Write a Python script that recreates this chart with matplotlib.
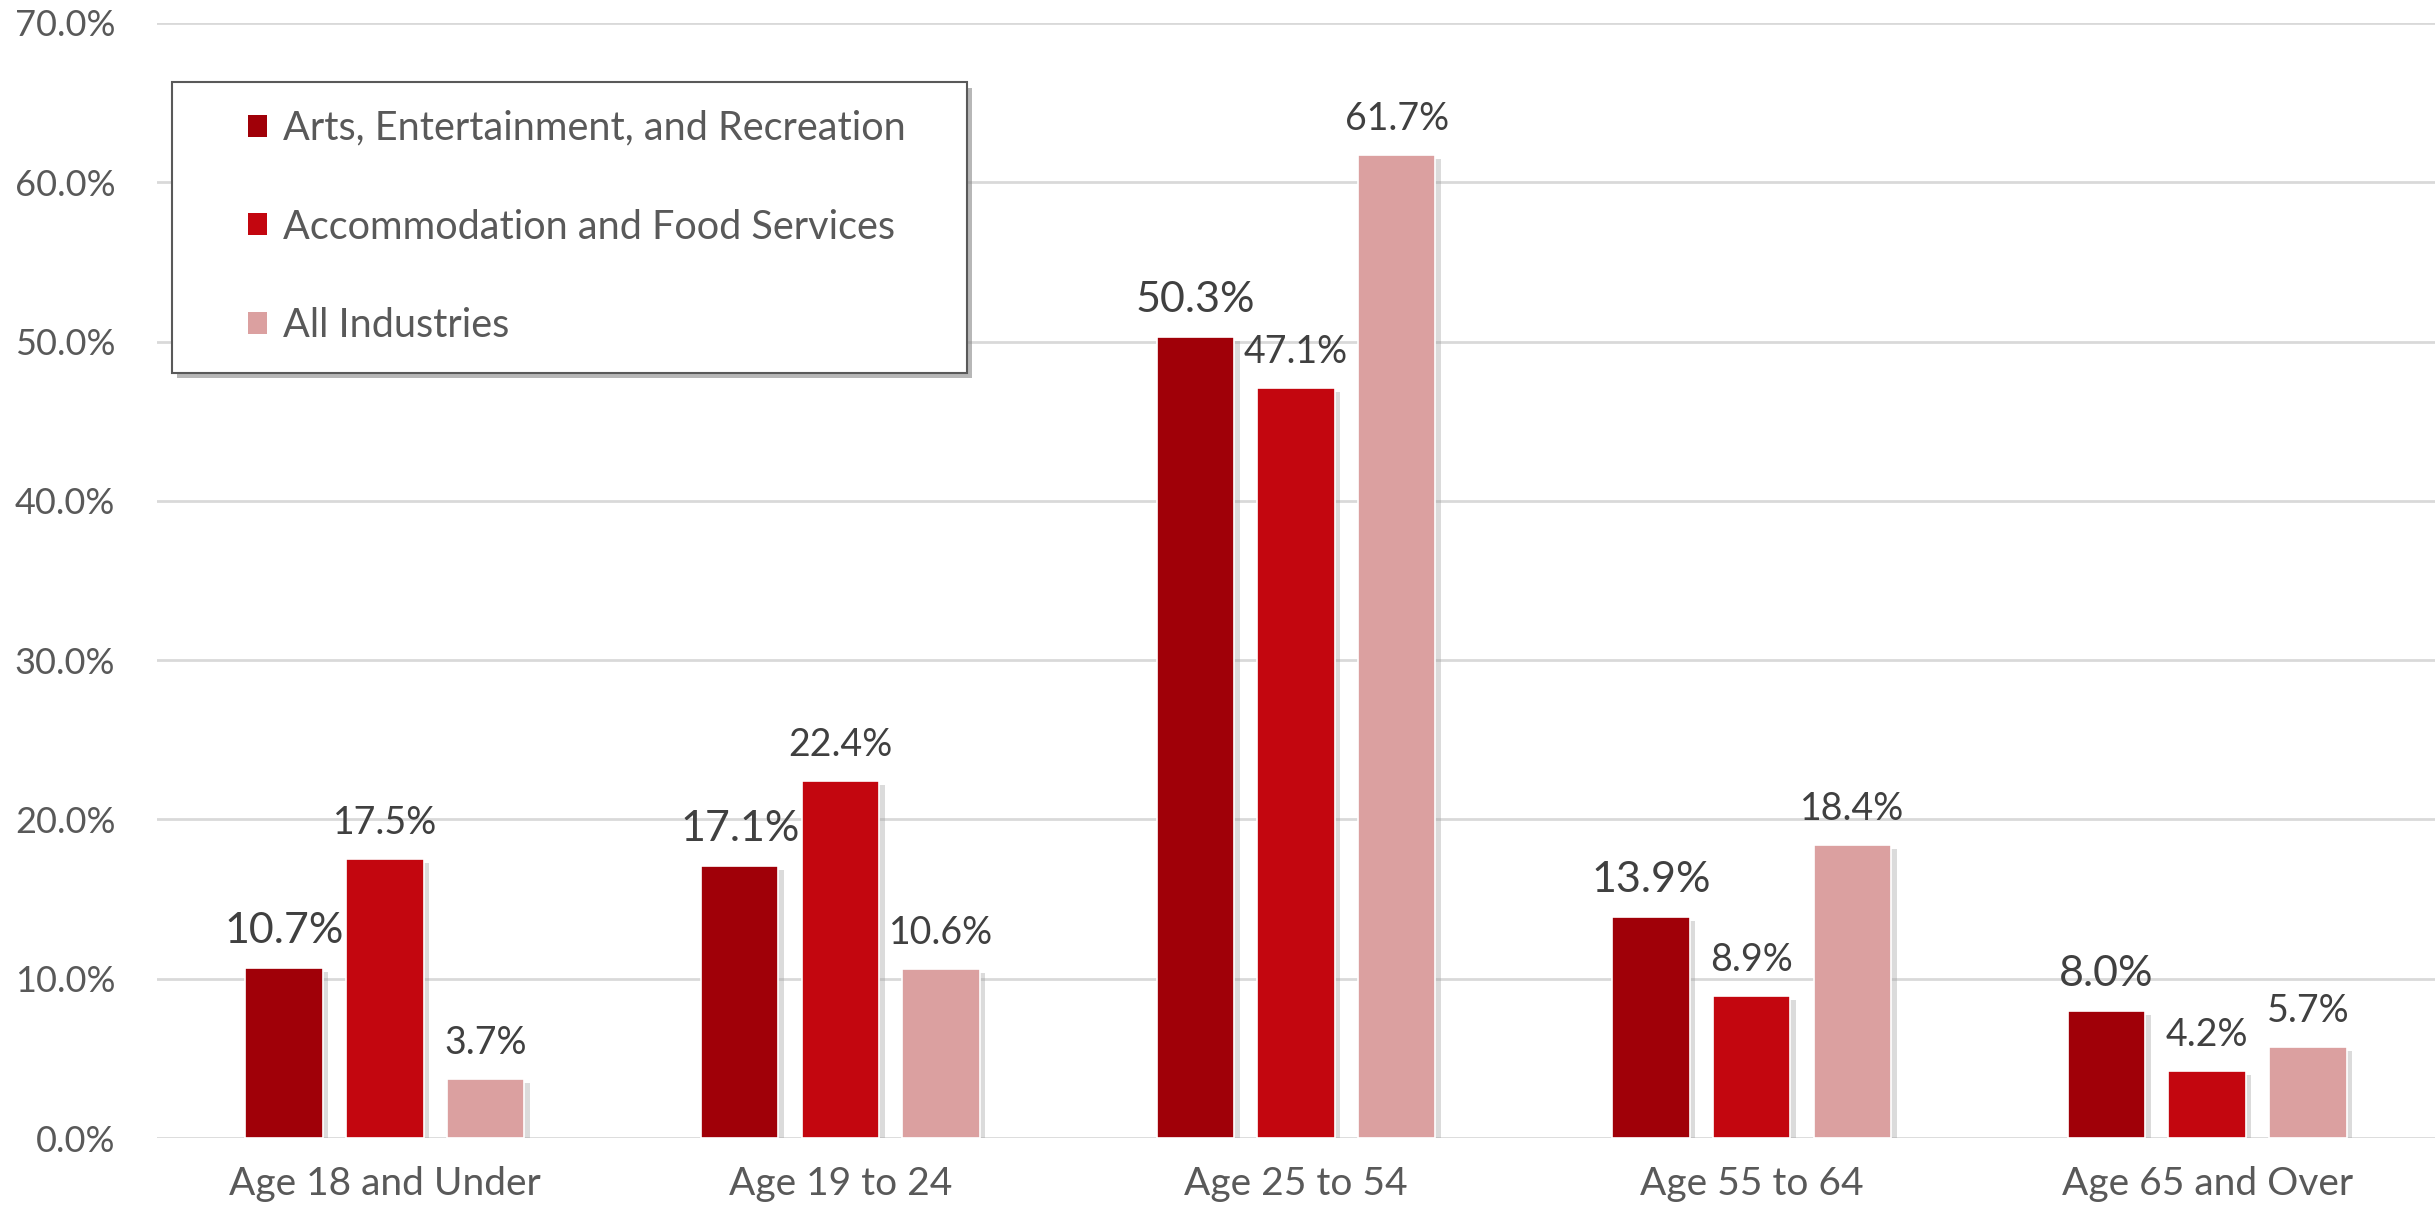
import matplotlib
matplotlib.use("Agg")
from matplotlib import pyplot as plt
import matplotlib.patheffects as pe
from matplotlib.patches import Rectangle, Patch
import numpy as np

plt.rcParams['font.family'] = ['Lato', 'DejaVu Sans']

categories = ["Age 18 and Under", "Age 19 to 24", "Age 25 to 54", "Age 55 to 64", "Age 65 and Over"]
series_names = ["Arts, Entertainment, and Recreation", "Accommodation and Food Services", "All Industries"]
arts = [10.7, 17.1, 50.3, 13.9, 8.0]
food = [17.5, 22.4, 47.1, 8.9, 4.2]
all_ind = [3.7, 10.6, 61.7, 18.4, 5.7]
colors = ["#A00008", "#C3060F", "#DBA0A0"]
yticks = [0, 10, 20, 30, 40, 50, 60, 70]

fig = plt.figure(figsize=(24.35, 12.14), dpi=100)
ax = fig.add_axes([0.0645, 0.0626, 0.9355, 0.9185])

x = np.arange(len(categories))
width = 0.17
step = 0.221
shadow = [pe.SimplePatchShadow(offset=(4, -3), shadow_rgbFace='#9a9a9a', alpha=0.35), pe.Normal()]

for i, vals in enumerate([arts, food, all_ind]):
    bars = ax.bar(x + (i - 1) * step, vals, width, color=colors[i], edgecolor='white',
                  linewidth=1.2, zorder=3)
    for b in bars:
        b.set_path_effects(shadow)
    fs = 31 if i == 0 else 27
    for xi, v in zip(x + (i - 1) * step, vals):
        ax.annotate(f"{v:.1f}%", (xi, v), xytext=(0, 18), textcoords='offset points',
                    ha='center', va='baseline', fontsize=fs, color='#404040', zorder=4)

ax.set_xlim(-0.5, 4.5)
ax.set_ylim(0, 70)
ax.set_yticks(yticks)
ax.set_yticklabels([f"{t:.1f}%" for t in yticks])
ax.set_xticks(x)
ax.set_xticklabels(categories)
ax.grid(axis='y', color='#D9D9D9', linewidth=2, zorder=0)
ax.set_axisbelow(True)
for s in ax.spines.values():
    s.set_visible(False)
ax.tick_params(axis='both', length=0, labelcolor='#595959')
ax.tick_params(axis='y', labelsize=26, pad=30)
ax.tick_params(axis='x', labelsize=28, pad=20)

# legend box drawn by hand so the padding can be uneven like the original
box = Rectangle((0.0706, 0.6928), 0.3265, 0.2397, transform=fig.transFigure,
                facecolor='white', edgecolor='#595959', linewidth=1.5, zorder=10,
                path_effects=[pe.SimplePatchShadow(offset=(4, -4), shadow_rgbFace='#888888', alpha=0.6), pe.Normal()])
fig.patches.append(box)

handles = [Patch(facecolor=c, edgecolor='none') for c in colors]
leg = fig.legend(handles, series_names, loc='center left', bbox_to_anchor=(0.1018, 0.813),
                 fontsize=28.5, frameon=False, handlelength=0.48, handleheight=0.48,
                 handletextpad=0.4, labelspacing=1.56, borderpad=0, borderaxespad=0)
leg.set_zorder(11)
for t in leg.get_texts():
    t.set_color('#595959')

fig.savefig("out.png", dpi=100)
